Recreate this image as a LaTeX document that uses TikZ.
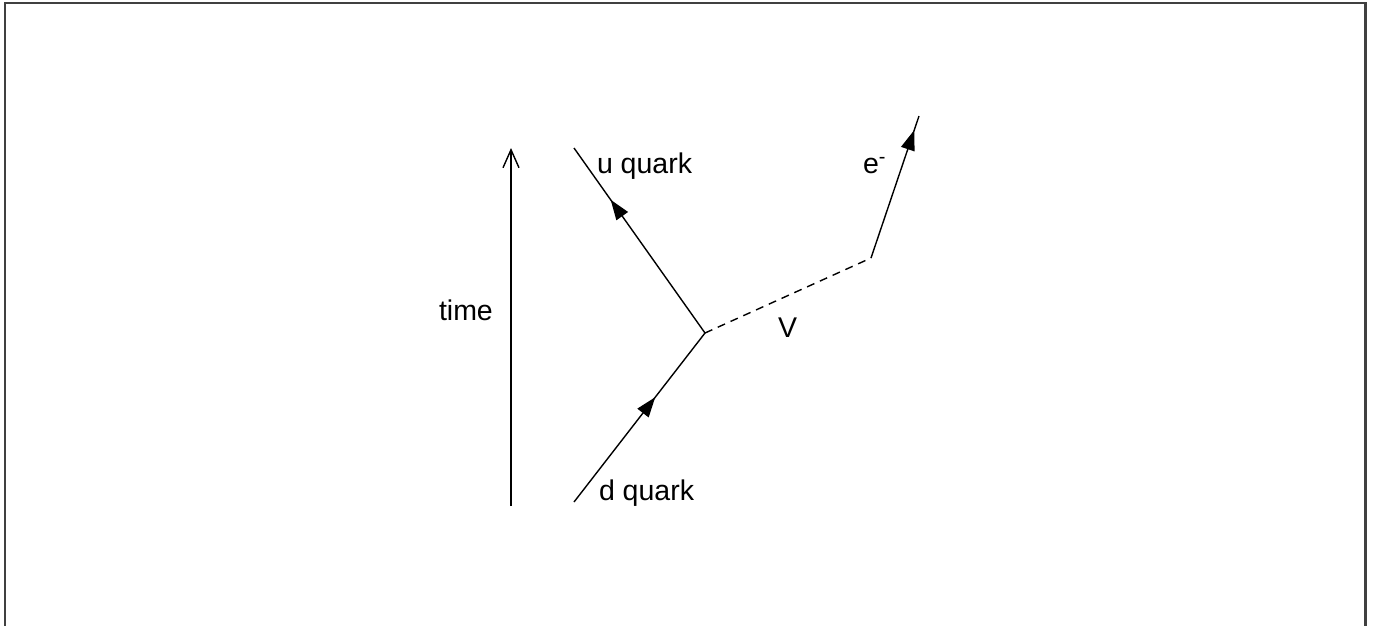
\documentclass[tikz,border=0pt]{standalone}
\usepackage{fontspec}
\setmainfont{Liberation Sans}
\usetikzlibrary{arrows.meta,decorations.markings}
\tikzset{
  lbl/.style={anchor=base west,inner sep=0pt,outer sep=0pt,font=\fontsize{28.5}{33}\selectfont},
  fermion/.style={line width=1.4pt,postaction={decorate},decoration={markings,mark=at position #1 with {\arrow{Triangle[length=20pt,width=14pt]}}}},
  boson/.style={line width=1.4pt,dash pattern=on 8pt off 6pt},
  framebox/.style={line width=2.5pt,draw=black!75},
  timearrow/.style={line width=1.4pt,-{Straight Barb[length=18pt,width=16pt,line width=1.4pt]}}
}
\begin{document}
\begin{tikzpicture}[x=1pt,y=-1pt]
\useasboundingbox (0,0) rectangle (1373,625);
\draw[framebox] (5,630) -- (5,3) -- (1365.5,3) -- (1365.5,630);
% points
\coordinate (tb) at (511,506);
\coordinate (tt) at (511,148);
\coordinate (vtx) at (705,333);
\coordinate (uend) at (574,148);
\coordinate (dstart) at (574,502);
\coordinate (wv) at (871,258);
\coordinate (eend) at (919,116);
% lines
\draw[timearrow] (tb) -- (tt);
\draw[fermion=0.62] (dstart) -- (vtx);
\draw[fermion=0.72] (vtx) -- (uend);
\draw[boson] (vtx) -- (wv);
\draw[fermion=0.9] (wv) -- (eend);
% labels
\node[lbl] (tlabel) at (439,320) {time};
\node[lbl] (ulabel) at (597,173) {u quark};
\node[lbl] (dlabel) at (599,500) {d quark};
\node[lbl] (vlabel) at (778,337) {V};
\node[lbl] (elabel) at (863,173) {e\textsuperscript{-}};
\end{tikzpicture}
\end{document}
